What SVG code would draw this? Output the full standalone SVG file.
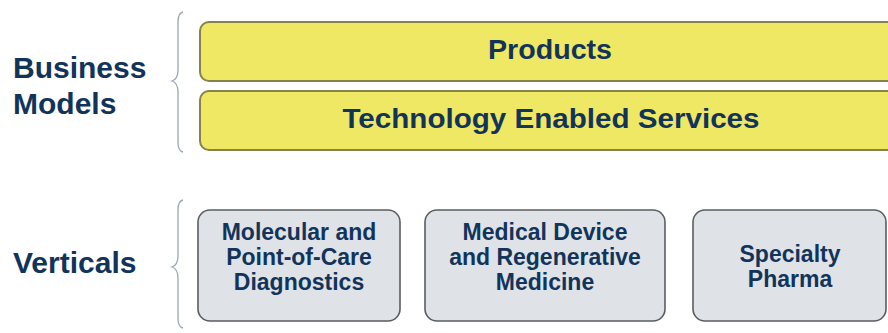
<svg xmlns="http://www.w3.org/2000/svg" width="888" height="333" viewBox="0 0 888 333">
<style>
.lbl{font-family:"Liberation Sans",Arial,sans-serif;font-weight:bold;fill:#12345a}
.side{font-size:30px}
.ybox{fill:#efe864;stroke:#86824e;stroke-width:2}
.gbox{fill:#dfe3e8;stroke:#5a5e62;stroke-width:1.6}
.ytxt{font-size:28px;text-anchor:middle}
.gtxt{font-size:23px;text-anchor:middle}
.brace{fill:none;stroke:#9aa7b4;stroke-width:1.3}
</style>
<rect width="888" height="333" fill="#ffffff"/>
<g id="label-business-models">
<text class="lbl side" x="13" y="78">Business</text>
<text class="lbl side" x="13" y="114">Models</text>
</g>
<g id="label-verticals">
<text class="lbl side" x="13" y="273">Verticals</text>
</g>
<g id="connectors">
<path class="brace" d="M183,12 Q178,13 178,22 L178,70 Q178,79 172,81 Q178,83 178,92 L178,142 Q178,151 183,152"/>
<path class="brace" d="M183,200 Q178,201 178,210 L178,256 Q178,265 172,267 Q178,269 178,278 L178,318 Q178,327 183,328"/>
</g>
<g id="products">
<rect class="ybox" x="200" y="22" width="700" height="59" rx="9"/>
<text class="lbl ytxt" x="550" y="59" textLength="124" lengthAdjust="spacingAndGlyphs">Products</text>
</g>
<g id="tech-services">
<rect class="ybox" x="200" y="91" width="700" height="59" rx="9"/>
<text class="lbl ytxt" x="551" y="128" textLength="417" lengthAdjust="spacingAndGlyphs">Technology Enabled Services</text>
</g>
<g id="diagnostics">
<rect class="gbox" x="198" y="210" width="202" height="111" rx="12"/>
<text class="lbl gtxt" x="299" y="240">Molecular and</text>
<text class="lbl gtxt" x="299" y="265">Point-of-Care</text>
<text class="lbl gtxt" x="299" y="290">Diagnostics</text>
</g>
<g id="medical-device">
<rect class="gbox" x="425" y="210" width="240" height="111" rx="12"/>
<text class="lbl gtxt" x="545" y="240">Medical Device</text>
<text class="lbl gtxt" x="545" y="265">and Regenerative</text>
<text class="lbl gtxt" x="545" y="290">Medicine</text>
</g>
<g id="specialty-pharma">
<rect class="gbox" x="693" y="210" width="193" height="111" rx="12"/>
<text class="lbl gtxt" x="790" y="262">Specialty</text>
<text class="lbl gtxt" x="790" y="287">Pharma</text>
</g>
</svg>
